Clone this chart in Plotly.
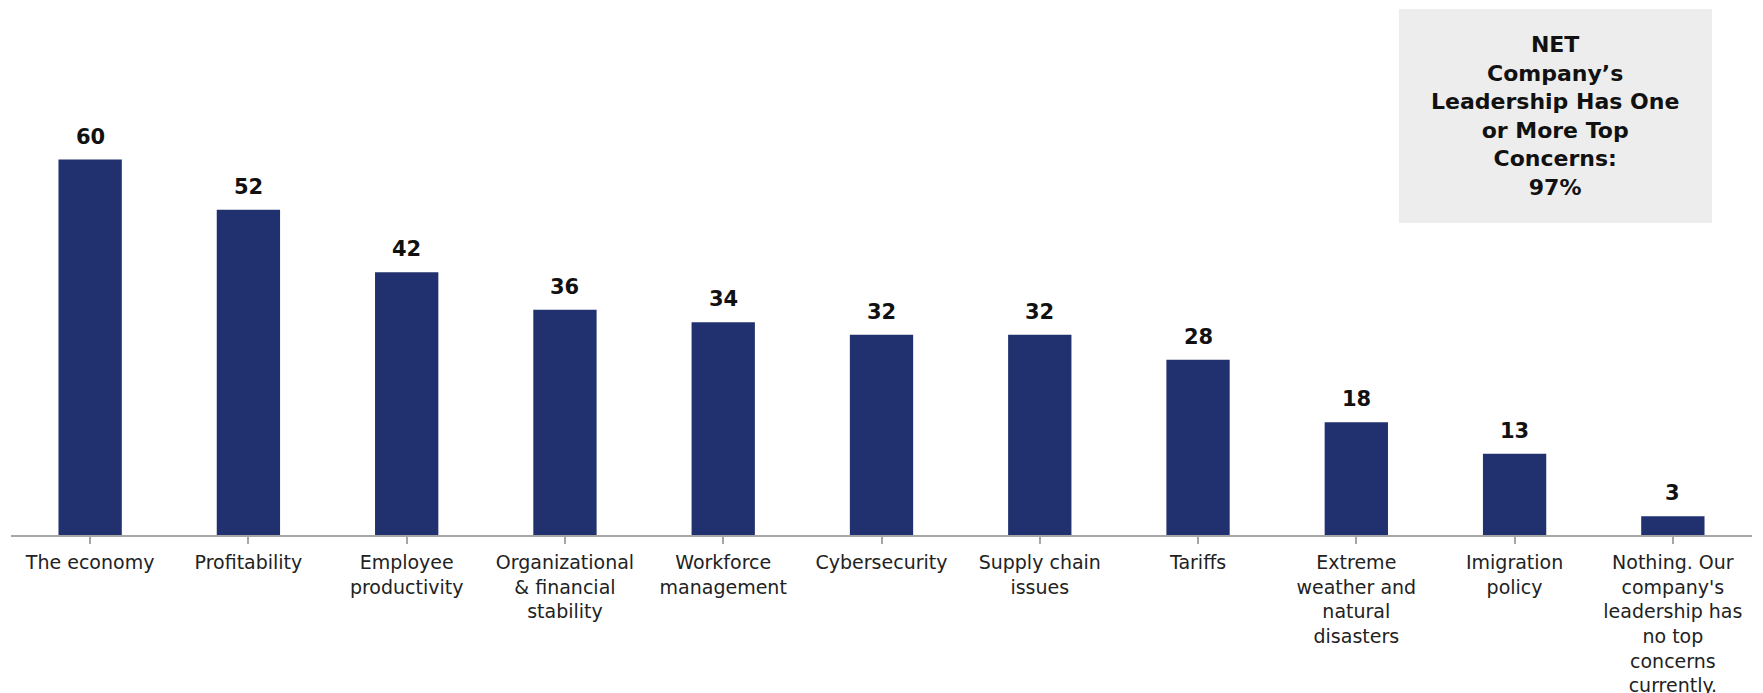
import plotly.graph_objects as go

categories = [
    "The economy", "Profitability", "Employee<br>productivity",
    "Organizational<br>& financial<br>stability", "Workforce<br>management",
    "Cybersecurity", "Supply chain<br>issues", "Tariffs",
    "Extreme<br>weather and<br>natural<br>disasters", "Imigration<br>policy",
    "Nothing. Our<br>company's<br>leadership has<br>no top<br>concerns<br>currently.",
]
values = [60, 52, 42, 36, 34, 32, 32, 28, 18, 13, 3]
net_text = "NET<br>Company’s<br>Leadership Has One<br>or More Top<br>Concerns:<br>97%"

FONT = "DejaVu Sans"
BAR = "#21306E"

fig = go.Figure()
fig.add_trace(go.Bar(
    x=list(range(len(categories))), y=values,
    marker=dict(color=BAR, line=dict(width=0)),
    width=0.4, hoverinfo="skip",
))

for i, v in enumerate(values):
    fig.add_annotation(x=i, y=v, text=f"<b>{v}</b>", showarrow=False,
                       yanchor="bottom", yshift=9,
                       font=dict(family=FONT, size=21, color="#111111"))

# NET box
fig.add_shape(type="rect", xref="paper", yref="paper",
              x0=0.7972, x1=0.9770, y0=0.7123, y1=1.2009,
              fillcolor="#EDEDED", line=dict(width=0), layer="below")
fig.add_annotation(xref="paper", yref="paper", x=0.8871, y=0.9566,
                   text=f"<b>{net_text}</b>", showarrow=False,
                   align="center", xanchor="center", yanchor="middle",
                   font=dict(family=FONT, size=22, color="#111111"))

fig.update_layout(
    width=1763, height=693,
    margin=dict(l=3, r=19, t=89, b=166, autoexpand=False),
    paper_bgcolor="white", plot_bgcolor="white",
    showlegend=False,
    font=dict(family=FONT, color="#222222"),
)
fig.update_xaxes(
    tickmode="array", tickvals=list(range(len(categories))), ticktext=categories,
    range=[-0.5, len(categories) - 0.5],
    showline=True, linecolor="#A6A6A6", linewidth=2,
    ticks="outside", ticklen=7, tickcolor="#A6A6A6", tickwidth=1.5,
    tickson="boundaries", automargin=False, ticklabelstandoff=2,
    tickfont=dict(family=FONT, size=19, color="#222222"),
    tickangle=0, showgrid=False, zeroline=False,
)
fig.update_yaxes(range=[0, 70], visible=False, showgrid=False, zeroline=False,
                 automargin=False)

fig.write_html("out.html")
